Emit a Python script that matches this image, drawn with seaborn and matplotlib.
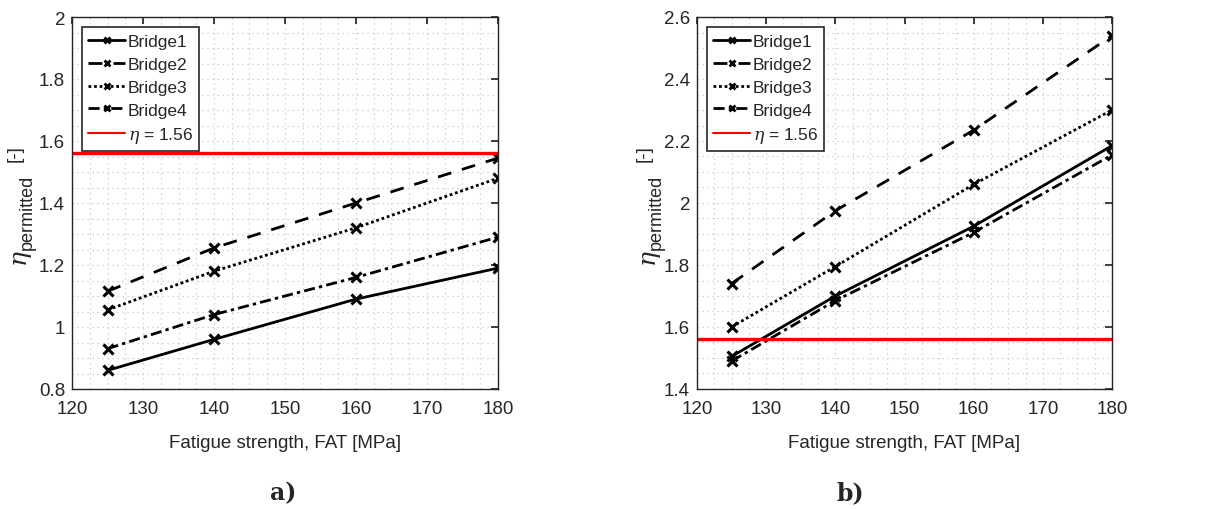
import matplotlib
matplotlib.use("Agg")
import matplotlib.pyplot as plt
from matplotlib.lines import Line2D
from matplotlib.ticker import MultipleLocator
import pandas as pd
import seaborn as sns

fat = [125, 140, 160, 180]
bridges = ["Bridge1", "Bridge2", "Bridge3", "Bridge4"]

# panel a)
a_bridge1 = [0.86, 0.96, 1.09, 1.19]
a_bridge2 = [1.115, 1.255, 1.40, 1.545]
a_bridge3 = [1.055, 1.18, 1.32, 1.48]
a_bridge4 = [0.93, 1.04, 1.16, 1.29]

# panel b)
b_bridge1 = [1.505, 1.70, 1.925, 2.185]
b_bridge2 = [1.74, 1.975, 2.235, 2.54]
b_bridge3 = [1.60, 1.795, 2.06, 2.30]
b_bridge4 = [1.49, 1.685, 1.905, 2.155]

eta_limit = 1.56
panel_labels = ["a)", "b)"]

sns.set_theme(style="white")
plt.rcParams["font.family"] = ["Liberation Sans", "DejaVu Sans"]
plt.rcParams["mathtext.fontset"] = "custom"
plt.rcParams["mathtext.rm"] = "Liberation Sans"
plt.rcParams["mathtext.it"] = "DejaVu Serif:italic"

styles = {
    "Bridge1": "-",
    "Bridge2": (0, (5, 4)),
    "Bridge3": (0, (1, 1)),
    "Bridge4": (0, (4, 1.5, 1.2, 1.5)),
}
dark = "#262626"
W, H = 1228, 510

fig = plt.figure(figsize=(W / 100, H / 100), dpi=100)
ax_a = fig.add_axes([72 / W, 1 - 390 / H, 426 / W, 372 / H])
ax_b = fig.add_axes([697 / W, 1 - 390 / H, 415 / W, 372 / H])

panels = [
    (ax_a, 22, [a_bridge1, a_bridge2, a_bridge3, a_bridge4], (0.8, 2.0)),
    (ax_b, 651, [b_bridge1, b_bridge2, b_bridge3, b_bridge4], (1.4, 2.6)),
]

for ax, label_px, series, ylim in panels:
    handles = []
    for name, vals in zip(bridges, series):
        df = pd.DataFrame({"FAT": fat, "eta": vals})
        sns.lineplot(data=df, x="FAT", y="eta", ax=ax, color="black",
                     linestyle=styles[name], linewidth=2, marker="x",
                     markersize=6.5, markeredgewidth=2.2, markeredgecolor="black",
                     legend=False)
        handles.append(Line2D([], [], color="black", linestyle=styles[name],
                              linewidth=2, marker="x", markersize=5,
                              markeredgewidth=2, label=name))
    ax.axhline(eta_limit, color="red", linewidth=2.4)
    handles.append(Line2D([], [], color="red", linewidth=1.5,
                          label=r"$\eta$ = 1.56"))
    ax.set_xlim(120, 180)
    ax.set_ylim(*ylim)
    ax.xaxis.set_major_locator(MultipleLocator(10))
    ax.xaxis.set_minor_locator(MultipleLocator(2.5))
    ax.yaxis.set_major_locator(MultipleLocator(0.2))
    ax.yaxis.set_minor_locator(MultipleLocator(0.05))
    ax.yaxis.set_major_formatter(lambda v, p: f"{v:g}")
    ax.grid(which="both", color="#c8c8c8", linestyle=(0, (1, 3)), linewidth=0.9)
    ax.tick_params(axis="x", which="major", pad=8)
    ax.tick_params(axis="y", which="major", pad=5)
    ax.tick_params(which="major", direction="in", length=5, top=True, right=True,
                   labelsize=13.5, colors=dark, labelcolor=dark)
    ax.tick_params(which="minor", length=0)
    for sp in ax.spines.values():
        sp.set_color(dark)
        sp.set_linewidth(1)
    ax.set_xlabel("Fatigue strength, FAT [MPa]", fontsize=13.5, color=dark, labelpad=12)
    ax.set_ylabel("")
    leg = ax.legend(handles=handles, loc="upper left", fontsize=12.5, frameon=True,
                    fancybox=False, handlelength=2.1, handletextpad=0.15,
                    borderpad=0.35, labelspacing=0.45, borderaxespad=0.6)
    leg.get_frame().set_edgecolor(dark)
    leg.get_frame().set_linewidth(1.2)
    leg.get_frame().set_alpha(1)

    # y label built from pieces: eta, a big subscript, then "[-]"
    fig.text(label_px / W, 1 - 259 / H, r"$\eta$", rotation=90,
             ha="center", va="center", fontsize=18, color=dark)
    fig.text((label_px + 5) / W, 1 - 212 / H, "permitted", rotation=90,
             ha="center", va="center", fontsize=13, color=dark)
    fig.text((label_px - 7) / W, 1 - 154 / H, "[-]", rotation=90,
             ha="center", va="center", fontsize=13.5, color=dark)

fig.text(283 / W, 1 - 493 / H, panel_labels[0], ha="center", va="center",
         fontsize=17, fontweight="bold", family="DejaVu Serif")
fig.text(850 / W, 1 - 493 / H, panel_labels[1], ha="center", va="center",
         fontsize=17, fontweight="bold", family="DejaVu Serif")

fig.savefig("out.png", dpi=100)
